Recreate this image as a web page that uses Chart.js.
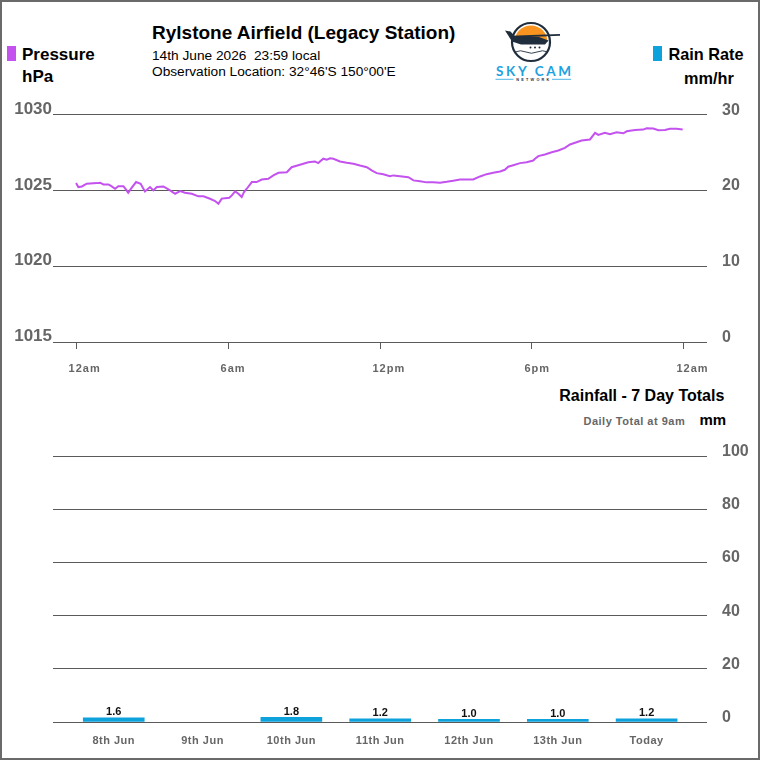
<!DOCTYPE html>
<html>
<head>
<meta charset="utf-8">
<script src="https://cdn.jsdelivr.net/npm/chart.js@4.4.1/dist/chart.umd.min.js"></script>
<style>
html,body{margin:0;padding:0;background:#fff;}
#page{position:relative;width:760px;height:760px;overflow:hidden;background:#fff;font-family:"Liberation Sans",Arial,sans-serif;}
#frame{position:absolute;left:0;top:0;width:760px;height:760px;box-sizing:border-box;border:2px solid #6a6a6a;pointer-events:none;}
.t{position:absolute;white-space:nowrap;line-height:1;color:#000;}
.b{font-weight:bold;}
.sq{position:absolute;}
canvas{position:absolute;left:0;}
</style>
</head>
<body>
<div id="page">
  <div class="t b" style="left:152px;top:22.5px;font-size:19px;">Rylstone Airfield (Legacy Station)</div>
  <div class="t" style="left:152px;top:49px;font-size:13.7px;">14th June 2026&nbsp;&nbsp;23:59 local</div>
  <div class="t" style="left:152px;top:65px;font-size:13.7px;">Observation Location: 32°46'S 150°00'E</div>

  <div class="sq" style="left:7px;top:46px;width:8.5px;height:15px;background:#c452ee;"></div>
  <div class="t b" style="left:22px;top:45.5px;font-size:17px;">Pressure</div>
  <div class="t b" style="left:22px;top:68.3px;font-size:17px;">hPa</div>

  <div class="sq" style="left:653px;top:46px;width:8.5px;height:15px;background:#0ea2dc;"></div>
  <div class="t b" style="left:668.5px;top:46px;font-size:16.3px;">Rain Rate</div>
  <div class="t b" style="left:684px;top:69.5px;font-size:16.3px;">mm/hr</div>

  <div class="t b" style="right:35.7px;top:388.2px;font-size:16px;">Rainfall - 7 Day Totals</div>
  <div class="t b" style="left:583.5px;top:415.7px;font-size:11px;letter-spacing:0.5px;color:#666;">Daily Total at 9am</div>
  <div class="t b" style="left:699.5px;top:412px;font-size:15px;">mm</div>

  <svg style="position:absolute;left:490px;top:15px;" width="90" height="72" viewBox="490 15 90 72">
    <circle cx="531" cy="42" r="19" fill="#fff" stroke="#1f2d3d" stroke-width="2.2"/>
    <path d="M514.5 42 A16.5 16.5 0 0 1 547.5 42 Z" fill="#f7931e"/>
    <path d="M505 30.5 L510.5 31.5 L515.5 37 L539 37 L548.5 40.5 L545 44.5 L521 44.5 L512 41.5 Z" fill="#1f2d3d"/>
    <path d="M511 35.8 L560 34 L560 35.8 L511 37.8 Z" fill="#1f2d3d"/>
    <circle cx="530.5" cy="47.5" r="1" fill="#1f2d3d"/>
    <circle cx="535" cy="47.5" r="1" fill="#1f2d3d"/>
    <circle cx="539.5" cy="47.5" r="1" fill="#1f2d3d"/>
    <path d="M515 52 Q520.5 49.5 526 52 T537 52 T548 52" stroke="#1f2d3d" stroke-width="0.9" fill="none"/>
    <text x="533.5" y="76" text-anchor="middle" font-family="Lato, 'Liberation Sans', sans-serif" font-weight="700" font-size="13.5" textLength="75" lengthAdjust="spacing" fill="#1ea1e0">SKY CAM</text>
    <line x1="495.5" y1="79.3" x2="513.5" y2="79.3" stroke="#1ea1e0" stroke-width="0.8"/>
    <line x1="552" y1="79.3" x2="571" y2="79.3" stroke="#1ea1e0" stroke-width="0.8"/>
    <text x="532.8" y="80.8" text-anchor="middle" font-family="'Liberation Sans', sans-serif" font-weight="700" font-size="3.8" textLength="33" lengthAdjust="spacing" fill="#1f2d3d">NETWORK</text>
  </svg>

  <canvas id="topChart" width="760" height="300" style="top:90px;"></canvas>
  <canvas id="rainChart" width="760" height="330" style="top:430px;"></canvas>
  <div id="frame"></div>
</div>
<script>
// ---------- data ----------
const timeHours = [0.00,0.09,0.23,0.42,0.82,0.95,1.08,1.28,1.41,1.54,
  1.67,1.87,1.93,2.06,2.20,2.37,2.55,2.72,2.92,3.05,
  3.19,3.45,3.71,3.91,4.11,4.30,4.57,4.83,5.03,5.29,
  5.49,5.62,5.75,5.88,6.05,6.15,6.28,6.41,6.54,6.63,
  6.74,6.94,7.13,7.33,7.59,7.79,7.99,8.32,8.51,8.84,
  9.17,9.43,9.56,9.76,9.90,10.03,10.16,10.42,10.69,10.95,
  11.21,11.48,11.67,11.87,12.13,12.39,12.53,12.79,13.12,13.32,
  13.58,13.84,14.10,14.37,14.63,14.89,15.16,15.68,15.95,16.21,
  16.47,16.74,16.93,17.06,17.26,17.53,17.79,18.05,18.12,18.25,
  18.51,18.78,19.04,19.30,19.50,19.70,19.96,20.29,20.49,20.62,
  20.88,21.08,21.34,21.61,21.74,22.07,22.39,22.53,22.79,22.99,
  23.25,23.45,23.71,23.95];
const pressureHpa = [1025.48,1025.22,1025.26,1025.44,1025.48,1025.51,1025.39,1025.39,1025.26,1025.11,
  1025.28,1025.28,1025.15,1024.85,1025.18,1025.55,1025.44,1024.93,1025.22,1025.00,
  1025.22,1025.26,1025.00,1024.78,1024.95,1024.85,1024.78,1024.61,1024.61,1024.45,
  1024.30,1024.12,1024.45,1024.49,1024.52,1024.67,1024.93,1024.78,1024.56,1024.89,
  1025.11,1025.55,1025.55,1025.72,1025.77,1025.99,1026.16,1026.20,1026.53,1026.69,
  1026.86,1026.91,1026.80,1027.09,1027.02,1027.12,1027.09,1026.91,1026.82,1026.76,
  1026.64,1026.53,1026.32,1026.14,1026.07,1025.94,1025.99,1025.94,1025.87,1025.66,
  1025.61,1025.53,1025.53,1025.51,1025.57,1025.64,1025.72,1025.72,1025.92,1026.07,
  1026.16,1026.25,1026.36,1026.56,1026.66,1026.80,1026.86,1026.97,1027.09,1027.26,
  1027.37,1027.52,1027.63,1027.81,1028.03,1028.14,1028.29,1028.36,1028.80,1028.66,
  1028.80,1028.70,1028.84,1028.77,1028.90,1028.99,1029.01,1029.10,1029.08,1028.97,
  1028.99,1029.06,1029.06,1029.01];
const rainRateHours = [];   // no rain rate recorded
const rainRateMmHr = [];
const timeTickHours = [0, 6, 12, 18, 24];
const timeTickLabels = ['12am', '6am', '12pm', '6pm', '12am'];
const pressureTicks = [1015, 1020, 1025, 1030];
const rainRateTicks = [0, 10, 20, 30];

const rainDays = ['8th Jun', '9th Jun', '10th Jun', '11th Jun', '12th Jun', '13th Jun', 'Today'];
const rainTotals = [1.6, null, 1.8, 1.2, 1.0, 1.0, 1.2];
const rainTotalTicks = [0, 20, 40, 60, 80, 100];

// ---------- styles ----------
const PURPLE = '#c452ee';
const BLUE = '#0ea2dc';
const GRID = '#5a5a5a';
const TICKGREY = '#666';
const FONT = "'Liberation Sans', Arial, sans-serif";

const spacedXTicks = {
  id: 'spacedXTicks',
  beforeDraw(chart, args, opts) {
    const s = chart.scales.x;
    if (s && !s.__spaced) {
      const orig = s.drawLabels;
      s.drawLabels = function (area) {
        const c = this.ctx;
        c.save();
        c.letterSpacing = opts.spacing || '0px';
        orig.call(this, area);
        c.restore();
      };
      s.__spaced = true;
    }
  }
};

const barValueLabels = {
  id: 'barValueLabels',
  afterDatasetsDraw(chart) {
    const ctx = chart.ctx;
    const meta = chart.getDatasetMeta(0);
    const ds = chart.data.datasets[0];
    ctx.save();
    ctx.font = "bold 11px " + FONT;
    ctx.fillStyle = '#111';
    ctx.textAlign = 'center';
    ctx.textBaseline = 'alphabetic';
    meta.data.forEach((el, i) => {
      const v = ds.data[i].y;
      if (v === null || v === undefined) return;
      ctx.fillText(v.toFixed(1), el.x, el.y - 2.6);
    });
    ctx.restore();
  }
};

// ---------- top chart: pressure / rain rate ----------
new Chart(document.getElementById('topChart'), {
  type: 'line',
  data: {
    datasets: [
      {
        label: 'Pressure',
        data: timeHours.map((h, i) => ({ x: h, y: pressureHpa[i] })),
        yAxisID: 'yP',
        borderColor: PURPLE,
        borderWidth: 2,
        pointRadius: 0,
        tension: 0,
        fill: false
      },
      {
        label: 'Rain Rate',
        data: rainRateHours.map((h, i) => ({ x: h, y: rainRateMmHr[i] })),
        yAxisID: 'yR',
        borderColor: BLUE,
        borderWidth: 2,
        pointRadius: 0,
        fill: false
      }
    ]
  },
  options: {
    responsive: false,
    animation: false,
    events: [],
    layout: { padding: { top: 24, left: 0, right: 0, bottom: 0 } },
    plugins: { legend: { display: false }, tooltip: { enabled: false }, spacedXTicks: { spacing: '1px' } },
    scales: {
      x: {
        type: 'linear',
        min: -0.91,
        max: 24.91,
        afterBuildTicks: s => { s.ticks = timeTickHours.map(v => ({ value: v })); },
        ticks: {
          callback: v => timeTickLabels[timeTickHours.indexOf(v)],
          font: { family: FONT, size: 11, weight: 'bold' },
          color: TICKGREY,
          padding: 13,
          align: 'start',
          labelOffset: -7.5,
          maxRotation: 0,
          autoSkip: false
        },
        grid: { drawOnChartArea: false, drawTicks: true, tickLength: 7, color: GRID, lineWidth: 1 },
        border: { display: false },
        afterFit: s => { s.height = 48; }
      },
      yP: {
        position: 'left',
        min: 1015,
        max: 1030,
        afterBuildTicks: s => { s.ticks = pressureTicks.map(v => ({ value: v })); },
        ticks: {
          callback: v => String(v),
          font: { family: FONT, size: 17, weight: 'bold' },
          color: TICKGREY,
          padding: 1,
          labelOffset: -5.5
        },
        grid: { color: GRID, lineWidth: 1, drawTicks: false },
        border: { display: false },
        afterFit: s => { s.width = 53; }
      },
      yR: {
        position: 'right',
        min: 0,
        max: 30,
        afterBuildTicks: s => { s.ticks = rainRateTicks.map(v => ({ value: v })); },
        ticks: {
          callback: v => String(v),
          font: { family: FONT, size: 16, weight: 'bold' },
          color: TICKGREY,
          padding: 15,
          labelOffset: -4.5
        },
        grid: { display: false, drawTicks: false },
        border: { display: false },
        afterFit: s => { s.width = 53; }
      }
    }
  },
  plugins: [spacedXTicks]
});

// ---------- bottom chart: 7 day rainfall ----------
new Chart(document.getElementById('rainChart'), {
  type: 'bar',
  data: {
    datasets: [{
      label: 'Rainfall',
      data: rainDays.map((d, i) => ({ x: i, y: rainTotals[i] })),
      backgroundColor: BLUE,
      borderWidth: 0,
      barThickness: 61
    }]
  },
  options: {
    responsive: false,
    animation: false,
    events: [],
    layout: { padding: { top: 26, left: 53, right: 0, bottom: 0 } },
    plugins: { legend: { display: false }, tooltip: { enabled: false }, spacedXTicks: { spacing: '0.5px' } },
    scales: {
      x: {
        type: 'linear',
        offset: false,
        min: -0.684,
        max: 6.68,
        afterBuildTicks: s => { s.ticks = rainDays.map((d, i) => ({ value: i })); },
        ticks: {
          callback: v => rainDays[v],
          font: { family: FONT, size: 11, weight: 'bold' },
          color: TICKGREY,
          padding: 12.5,
          maxRotation: 0,
          autoSkip: false
        },
        grid: { display: false, offset: false, drawTicks: false },
        border: { display: false },
        afterFit: s => { s.height = 38; }
      },
      y: {
        position: 'right',
        min: 0,
        max: 100,
        afterBuildTicks: s => { s.ticks = rainTotalTicks.map(v => ({ value: v })); },
        ticks: {
          callback: v => String(v),
          font: { family: FONT, size: 16, weight: 'bold' },
          color: TICKGREY,
          padding: 15,
          labelOffset: -4.5
        },
        grid: { color: GRID, lineWidth: 1, drawTicks: false },
        border: { display: false },
        afterFit: s => { s.width = 53; }
      }
    }
  },
  plugins: [spacedXTicks, barValueLabels]
});
</script>
</body>
</html>
